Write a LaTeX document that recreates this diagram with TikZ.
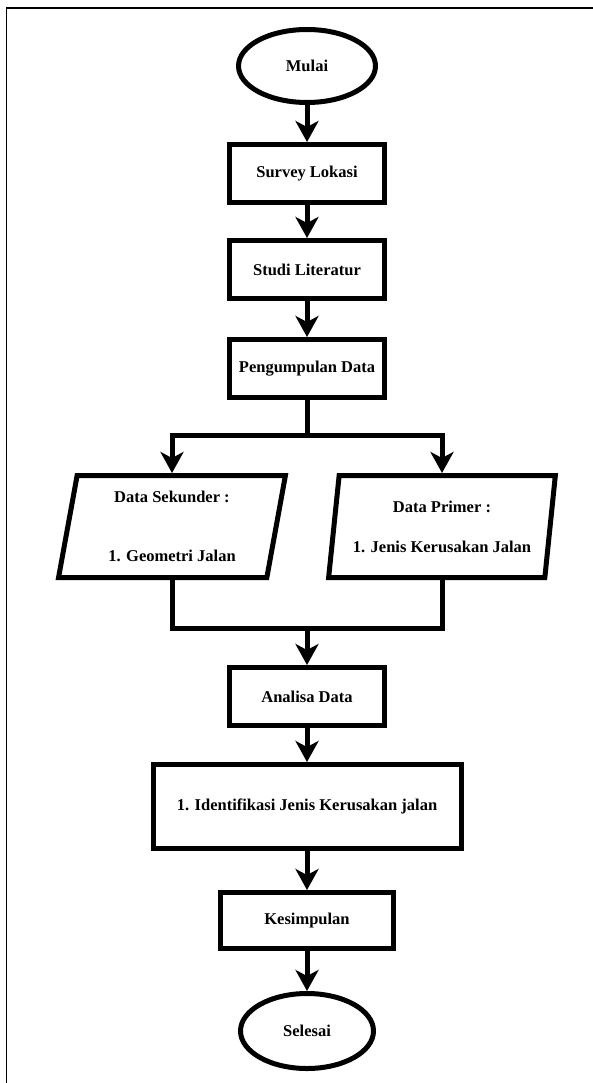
\documentclass[tikz,border=0pt]{standalone}
\usepackage{fontspec}
\setmainfont{Liberation Serif}
\usetikzlibrary{arrows.meta}
\usetikzlibrary{positioning}
\usetikzlibrary{shapes.geometric}

\begin{document}
\begin{tikzpicture}[x=1pt, y=-1pt,
    every node/.style={font=\bfseries\fontsize{16.5pt}{20pt}\selectfont,
      line width=5pt, outer sep=2.5pt, inner sep=0pt},
    startstop/.style={draw, ellipse, minimum width=137pt, minimum height=73pt},
    proc/.style={draw, rectangle, minimum width=155pt, minimum height=58pt},
    io/.style={draw, trapezium, trapezium left angle=80, trapezium right angle=100,
      trapezium stretches=true, minimum width=227pt, minimum height=102pt,
      align=center},
    conn/.style={line width=5pt},
    flow/.style={conn, -{Stealth[length=21pt, width=23pt, inset=6pt]}}]

    \useasboundingbox (0,0) rectangle (593,1083);
    \draw [line width=1.5pt] (6.5,1083) |- (593,8); % page frame

    \node (mulai) [startstop] at (307,66) {Mulai};
    \node (survey) [proc, below=37pt of mulai] {Survey Lokasi};
    \node (studi) [proc, below=33pt of survey] {Studi Literatur};
    \node (kumpul) [proc, below=36pt of studi] {Pengumpulan Data};
    \coordinate [below=35pt of kumpul] (split);

    \node (sekunder) [io, below=38pt of split, xshift=-135pt]
      {Data Sekunder :\\[39pt]1. Geometri Jalan};
    \node (primer) [io, below=38pt of split, xshift=135pt]
      {Data Primer :\\[20pt]1. Jenis Kerusakan Jalan};

    \coordinate (join) at (307,628);
    \node (analisa) [proc, below=37pt of join] {Analisa Data};
    \node (identifikasi) [proc, minimum width=308pt, minimum height=84pt,
      below=34pt of analisa] {1. Identifikasi Jenis Kerusakan jalan};
    \node (kesimpulan) [proc, minimum width=173pt, minimum height=56pt,
      below=39pt of identifikasi] {Kesimpulan};
    \node (selesai) [startstop, minimum width=133pt, minimum height=75pt,
      below=40pt of kesimpulan] {Selesai};

    \foreach \a/\b in {mulai/survey, survey/studi, studi/kumpul,
      analisa/identifikasi, identifikasi/kesimpulan, kesimpulan/selesai}
      \draw [flow] (\a) -- (\b);

    \draw [flow] (kumpul) -- (split) -| (sekunder.north);
    \draw [flow] (split) -| (primer.north);
    \draw [conn] (sekunder.south) |- (join) -| (primer.south);
    \draw [flow] (join) -- (analisa);
\end{tikzpicture}
\end{document}
